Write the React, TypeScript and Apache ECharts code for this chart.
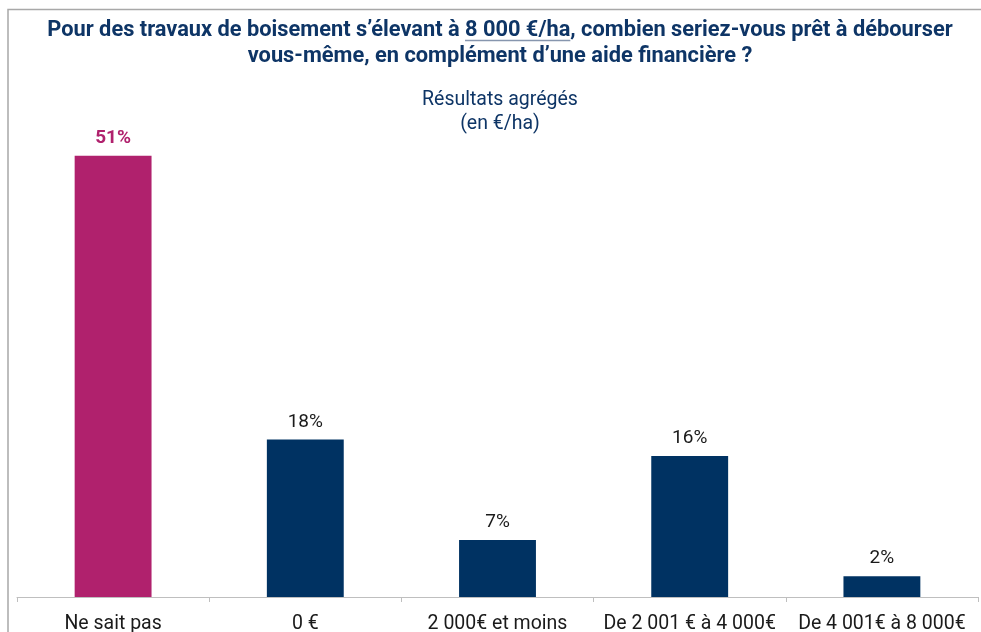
import React, { useEffect, useRef } from "react";
import * as echarts from "echarts";

const categories = ["Ne sait pas", "0 €", "2 000€ et moins", "De 2 001 € à 4 000€", "De 4 001€ à 8 000€"];
const values = [51, 18.2, 6.6, 16.3, 2.4];
const barColors = ["#B0216D", "#003262", "#003262", "#003262", "#003262"];
const titleBefore = "Pour des travaux de boisement s’élevant à ";
const titleUnder = "8 000 €/ha";
const titleAfter = ", combien seriez-vous prêt à débourser";
const titleLine2 = "vous-même, en complément d’une aide financière ?";
const subtitleLines = ["Résultats agrégés", "(en €/ha)"];

const NAVY = "#0E3566";
const TITLE_FONT = "bold 21.8px Roboto";

function measure(text: string, font: string): number {
  const c = document.createElement("canvas");
  const ctx = c.getContext("2d");
  if (!ctx) return text.length * 10;
  ctx.font = font;
  return ctx.measureText(text).width;
}

export default function App() {
  const ref = useRef<HTMLDivElement>(null);
  useEffect(() => {
    if (!ref.current) return;
    const chart = echarts.init(ref.current, null, { renderer: "svg" });
    const cx = 500;
    const wBefore = measure(titleBefore, TITLE_FONT);
    const wUnder = measure(titleUnder, TITLE_FONT);
    const wAfter = measure(titleAfter, TITLE_FONT);
    const total = wBefore + wUnder + wAfter;
    const x0 = cx - total / 2;
    const ux1 = x0 + wBefore;
    const ux2 = ux1 + wUnder;

    chart.setOption({
      animation: false,
      grid: { left: 17, right: 3, top: 78, bottom: 31, containLabel: false },
      xAxis: {
        type: "category",
        data: categories,
        axisLine: { lineStyle: { color: "#BFBFBF", width: 1 } },
        axisTick: { show: true, length: 5, lineStyle: { color: "#BFBFBF" } },
        axisLabel: {
          interval: 0,
          margin: 15,
          fontFamily: "Roboto",
          fontSize: 19.5,
          color: "#1a1a1a",
        },
      },
      yAxis: { type: "value", min: 0, max: 60, show: false, splitLine: { show: false } },
      series: [
        {
          type: "bar",
          barWidth: "40%",
          data: values.map((v, i) => ({
            value: v,
            itemStyle: { color: barColors[i] },
            label: i === 0
              ? { color: "#B0216D", fontWeight: "bold" }
              : { color: "#1a1a1a", fontWeight: "normal" },
          })),
          label: {
            show: true,
            position: "top",
            distance: 10,
            fontFamily: "Roboto",
            fontSize: 19,
            formatter: (p: any) => Math.round(p.value) + "%",
          },
        },
      ],
      graphic: [
        {
          type: "rect",
          shape: { x: 8, y: 9.5, width: 1100, height: 800 },
          style: { fill: "none", stroke: "#A8A8A8", lineWidth: 1.5 },
          silent: true,
        },
        {
          type: "text",
          x: cx,
          y: 28,
          style: {
            text: titleBefore + titleUnder + titleAfter,
            font: TITLE_FONT,
            fill: NAVY,
            align: "center",
            verticalAlign: "middle",
          },
        },
        {
          type: "line",
          shape: { x1: ux1, y1: 40.5, x2: ux2, y2: 40.5 },
          style: { stroke: "#8796AE", lineWidth: 1.5 },
        },
        {
          type: "text",
          x: cx,
          y: 54,
          style: {
            text: titleLine2,
            font: TITLE_FONT,
            fill: NAVY,
            align: "center",
            verticalAlign: "middle",
          },
        },
        {
          type: "text",
          x: cx,
          y: 98,
          style: {
            text: subtitleLines[0],
            font: "19.5px Roboto",
            fill: NAVY,
            align: "center",
            verticalAlign: "middle",
          },
        },
        {
          type: "text",
          x: cx,
          y: 122,
          style: {
            text: subtitleLines[1],
            font: "19.5px Roboto",
            fill: NAVY,
            align: "center",
            verticalAlign: "middle",
          },
        },
      ],
    });
    return () => chart.dispose();
  }, []);
  return <div ref={ref} style={{ width: 981, height: 632, position: "fixed", left: 0, top: 0 }} />;
}
